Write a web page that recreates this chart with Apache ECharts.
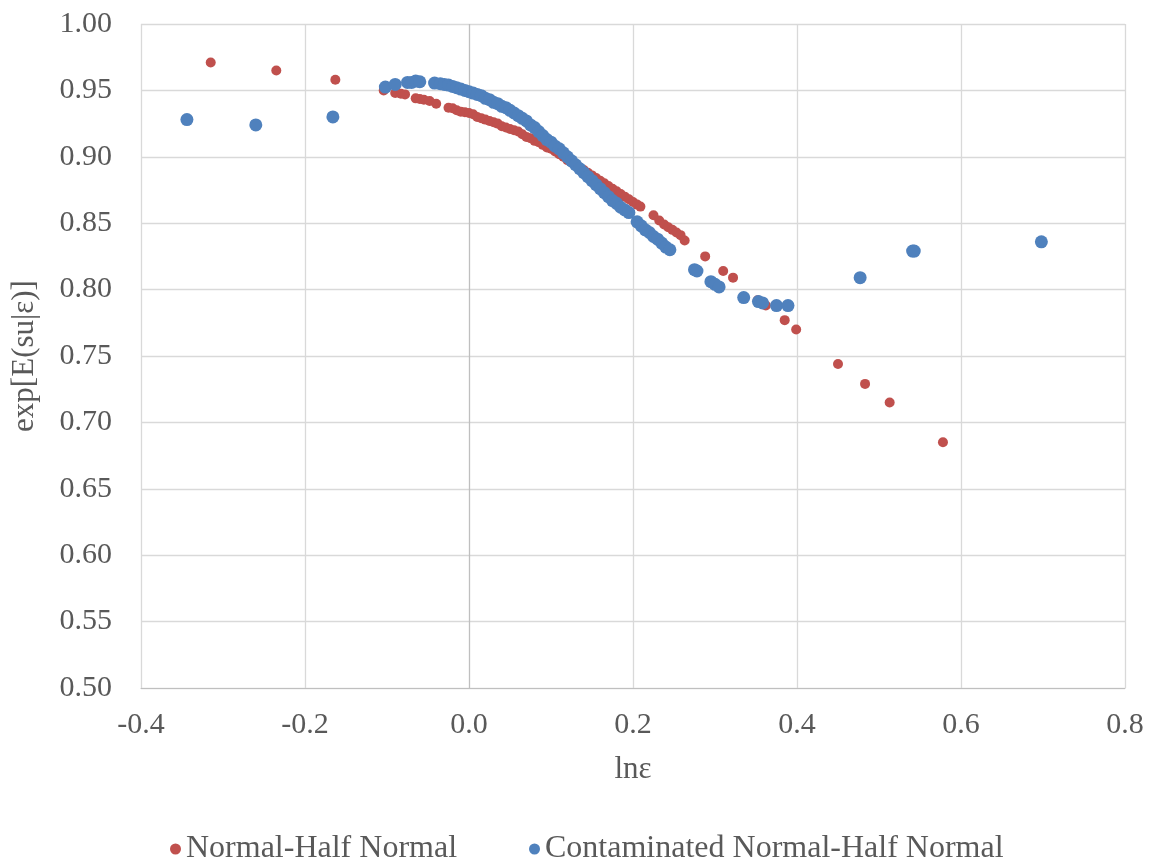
<!DOCTYPE html>
<html>
<head>
<meta charset="utf-8">
<script src="https://cdn.jsdelivr.net/npm/echarts@6/dist/echarts.min.js"></script>
<style>html,body{margin:0;padding:0;background:#fff;}#c{width:1153px;height:862px;}</style>
</head>
<body>
<div id="c"></div>
<script>
const seriesNames = ['Normal-Half Normal', 'Contaminated Normal-Half Normal'];
const xTicks = [-0.4, -0.2, 0.0, 0.2, 0.4, 0.6, 0.8];
const yTicks = [0.50, 0.55, 0.60, 0.65, 0.70, 0.75, 0.80, 0.85, 0.90, 0.95, 1.00];

const normalX = [-0.315, -0.235, -0.163,
  -0.104, -0.09, -0.083, -0.078, -0.065, -0.06, -0.055, -0.048, -0.04, -0.025, -0.02, -0.015, -0.01, -0.005,
  0.0, 0.005, 0.01, 0.015, 0.02, 0.025, 0.03, 0.035, 0.04, 0.045, 0.05, 0.055, 0.06, 0.065, 0.07, 0.075,
  0.08, 0.085, 0.09, 0.095, 0.1, 0.105, 0.11, 0.115, 0.12, 0.125, 0.13, 0.135, 0.14, 0.145, 0.15, 0.155,
  0.16, 0.165, 0.17, 0.175, 0.18, 0.185, 0.19, 0.195, 0.2, 0.205, 0.209,
  0.225, 0.232, 0.238, 0.243, 0.248, 0.253, 0.258, 0.263,
  0.288, 0.310, 0.322, 0.352, 0.362, 0.385, 0.399, 0.45, 0.483, 0.513, 0.578];
const normalY = [0.971, 0.965, 0.958,
  0.950, 0.948, 0.9475, 0.947, 0.944, 0.9435, 0.943, 0.942, 0.940, 0.937, 0.9365, 0.935, 0.934, 0.9335,
  0.933, 0.932, 0.930, 0.929, 0.928, 0.927, 0.926, 0.925, 0.923, 0.922, 0.921, 0.920, 0.919, 0.917, 0.915, 0.914,
  0.912, 0.911, 0.909, 0.907, 0.906, 0.904, 0.902, 0.900, 0.8975, 0.896, 0.894, 0.892, 0.890, 0.888, 0.886, 0.884,
  0.882, 0.880, 0.878, 0.876, 0.874, 0.872, 0.870, 0.868, 0.866, 0.864, 0.8625,
  0.856, 0.852, 0.849, 0.847, 0.845, 0.843, 0.841, 0.837,
  0.825, 0.814, 0.809, 0.792, 0.788, 0.777, 0.770, 0.744, 0.729, 0.715, 0.685];

const contamX = [-0.344, -0.260, -0.166,
  -0.102, -0.09, -0.075, -0.07, -0.065, -0.06, -0.042, -0.035, -0.03, -0.025, -0.02, -0.015, -0.01, -0.005,
  0.0, 0.005, 0.01, 0.015, 0.02, 0.025, 0.03, 0.035, 0.04, 0.045, 0.05, 0.055, 0.06, 0.065, 0.07, 0.075,
  0.08, 0.085, 0.09, 0.095, 0.1, 0.105, 0.11, 0.115, 0.12, 0.125, 0.13, 0.135, 0.14, 0.145, 0.15, 0.155,
  0.16, 0.165, 0.17, 0.175, 0.18, 0.185, 0.19, 0.195,
  0.205, 0.21, 0.215, 0.22, 0.225, 0.23, 0.235, 0.24, 0.245,
  0.275, 0.278, 0.295, 0.3, 0.305, 0.335, 0.353, 0.358, 0.375, 0.389, 0.477, 0.541, 0.543, 0.698];
const contamY = [0.928, 0.924, 0.930,
  0.9525, 0.9545, 0.956, 0.956, 0.957, 0.9565, 0.9555, 0.955, 0.9545, 0.954, 0.953, 0.952, 0.951, 0.950,
  0.949, 0.948, 0.947, 0.946, 0.944, 0.943, 0.941, 0.940, 0.938, 0.937, 0.935, 0.933, 0.931, 0.929, 0.927, 0.924,
  0.922, 0.919, 0.916, 0.913, 0.911, 0.908, 0.906, 0.903, 0.900, 0.897, 0.894, 0.891, 0.888, 0.885, 0.882, 0.879,
  0.876, 0.873, 0.870, 0.867, 0.865, 0.862, 0.860, 0.858,
  0.851, 0.848, 0.845, 0.843, 0.840, 0.838, 0.835, 0.832, 0.830,
  0.815, 0.814, 0.806, 0.804, 0.802, 0.794, 0.791, 0.790, 0.788, 0.788, 0.809, 0.829, 0.829, 0.836];

const zip = (xs, ys) => xs.map((x, i) => [x, ys[i]]);
const font = '"Liberation Serif", "Times New Roman", serif';
const txt = '#595959';

const chart = echarts.init(document.getElementById('c'), null, {renderer: 'canvas'});
const xSplitColors = xTicks.map(v => v === 0 ? '#bfbfbf' : '#d9d9d9');
chart.setOption({
  animation: false,
  backgroundColor: '#fff',
  grid: {left: 141, right: 28, top: 24, bottom: 174, containLabel: false},
  legend: {
    bottom: -8, left: 165,
    itemGap: 72, itemWidth: 11, itemHeight: 11,
    textStyle: {fontFamily: font, fontSize: 32, color: txt},
    data: [
      {name: seriesNames[0], icon: 'circle', itemStyle: {color: '#c0504d'}},
      {name: seriesNames[1], icon: 'circle', itemStyle: {color: '#4f81bd'}}
    ]
  },
  xAxis: {
    type: 'value', min: xTicks[0], max: xTicks[xTicks.length - 1], interval: 0.2,
    name: 'lnε', nameLocation: 'middle', nameGap: 66,
    nameTextStyle: {fontFamily: font, fontSize: 31, color: txt},
    axisLine: {show: true, onZero: false, lineStyle: {color: '#bfbfbf', width: 1}},
    axisTick: {show: false},
    axisLabel: {fontFamily: font, fontSize: 30, color: txt, margin: 22, formatter: v => v.toFixed(1)},
    splitLine: {show: true, lineStyle: {color: xSplitColors, width: 1.3}}
  },
  yAxis: {
    type: 'value', min: yTicks[0], max: yTicks[yTicks.length - 1], interval: 0.05,
    name: 'exp[E(su|ε)]', nameLocation: 'middle', nameGap: 101,
    nameTextStyle: {fontFamily: font, fontSize: 31, color: txt},
    axisLine: {show: false},
    axisTick: {show: false},
    axisLabel: {fontFamily: font, fontSize: 30, color: txt, margin: 29, formatter: v => v.toFixed(2)},
    splitLine: {show: true, lineStyle: {color: '#d9d9d9', width: 1.3}}
  },
  series: [
    {name: seriesNames[0], type: 'scatter', data: zip(normalX, normalY), symbolSize: 10,
     itemStyle: {color: '#c0504d', opacity: 1}, z: 2},
    {name: seriesNames[1], type: 'scatter', data: zip(contamX, contamY), symbolSize: 13,
     itemStyle: {color: '#4f81bd', opacity: 1}, z: 3}
  ]
});
</script>
</body>
</html>
